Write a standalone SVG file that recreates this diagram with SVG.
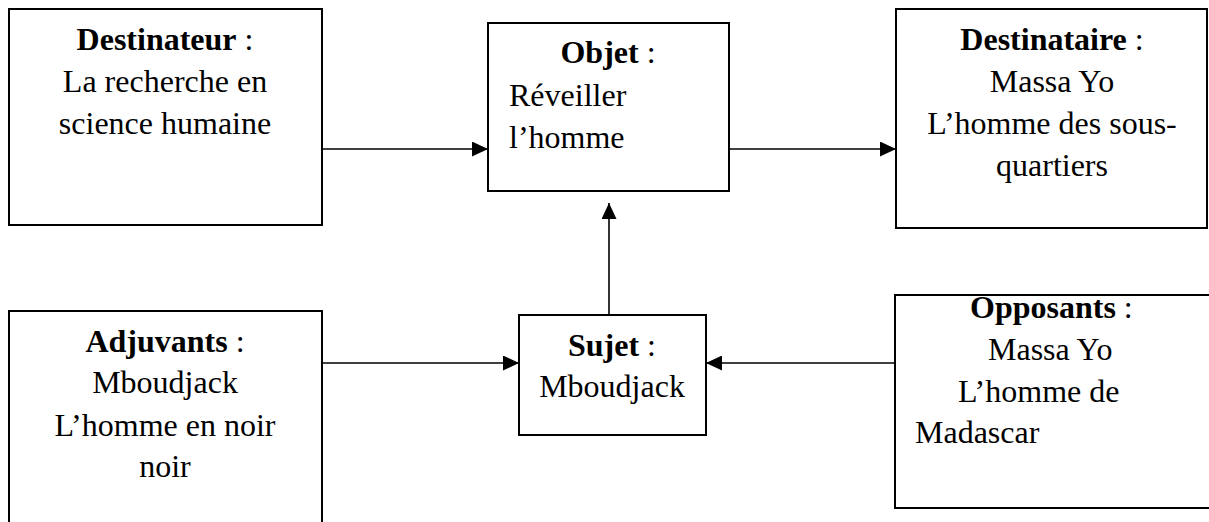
<svg xmlns="http://www.w3.org/2000/svg" width="1209" height="522" viewBox="0 0 1209 522">
<defs>
<style>
.box{fill:#fff;stroke:#000;stroke-width:2}
text{font-size:32px;fill:#000}
.c{text-anchor:middle}
.b{font-weight:bold}
.conn{stroke:#000;stroke-width:1.6;fill:none}
</style>
<marker id="ah" markerUnits="userSpaceOnUse" markerWidth="16" markerHeight="15" refX="16" refY="7.5" orient="auto">
<path d="M0,0 L16,7.5 L0,15 z" fill="#000"/>
</marker>
</defs>
<rect width="1209" height="522" fill="#fff"/>
<g id="connectors">
<line class="conn" x1="322" y1="149" x2="488" y2="149" marker-end="url(#ah)"/>
<line class="conn" x1="729" y1="149" x2="896" y2="149" marker-end="url(#ah)"/>
<line class="conn" x1="609" y1="315" x2="609" y2="203" marker-end="url(#ah)"/>
<line class="conn" x1="322" y1="363" x2="519" y2="363" marker-end="url(#ah)"/>
<line class="conn" x1="895" y1="363" x2="706" y2="363" marker-end="url(#ah)"/>
</g>
<g font-family="'Liberation Serif', 'DejaVu Serif', serif">
<g id="destinateur">
<rect class="box" x="9" y="9" width="313" height="216"/>
<text class="c" x="165" y="50"><tspan class="b">Destinateur</tspan> :</text>
<text class="c" x="165" y="92">La recherche en</text>
<text class="c" x="165" y="134">science humaine</text>
</g>
<g id="objet">
<rect class="box" x="488" y="23" width="241" height="168"/>
<text class="c" x="608" y="63"><tspan class="b">Objet</tspan> :</text>
<text x="509" y="106">Réveiller</text>
<text x="509" y="148">l’homme</text>
</g>
<g id="destinataire">
<rect class="box" x="896" y="9" width="311" height="219"/>
<text class="c" x="1052" y="50"><tspan class="b">Destinataire</tspan> :</text>
<text class="c" x="1052" y="92">Massa Yo</text>
<text class="c" x="1052" y="134">L’homme des sous-</text>
<text class="c" x="1052" y="176">quartiers</text>
</g>
<g id="sujet">
<rect class="box" x="519" y="315" width="187" height="120"/>
<text class="c" x="612" y="356"><tspan class="b">Sujet</tspan> :</text>
<text class="c" x="612" y="397">Mboudjack</text>
</g>
<g id="adjuvants">
<path class="box" d="M9,530 L9,311 L322,311 L322,530"/>
<text class="c" x="165" y="352"><tspan class="b">Adjuvants</tspan> :</text>
<text class="c" x="165" y="393">Mboudjack</text>
<text class="c" x="165" y="436">L’homme en noir</text>
<text class="c" x="165" y="477">noir</text>
</g>
<g id="opposants">
<path class="box" d="M1215,295 L895,295 L895,508 L1215,508"/>
<text x="970" y="318"><tspan class="b">Opposants</tspan> :</text>
<text x="988" y="360">Massa Yo</text>
<text x="958" y="402">L’homme de</text>
<text x="915" y="443">Madascar</text>
</g>
</g>
</svg>
